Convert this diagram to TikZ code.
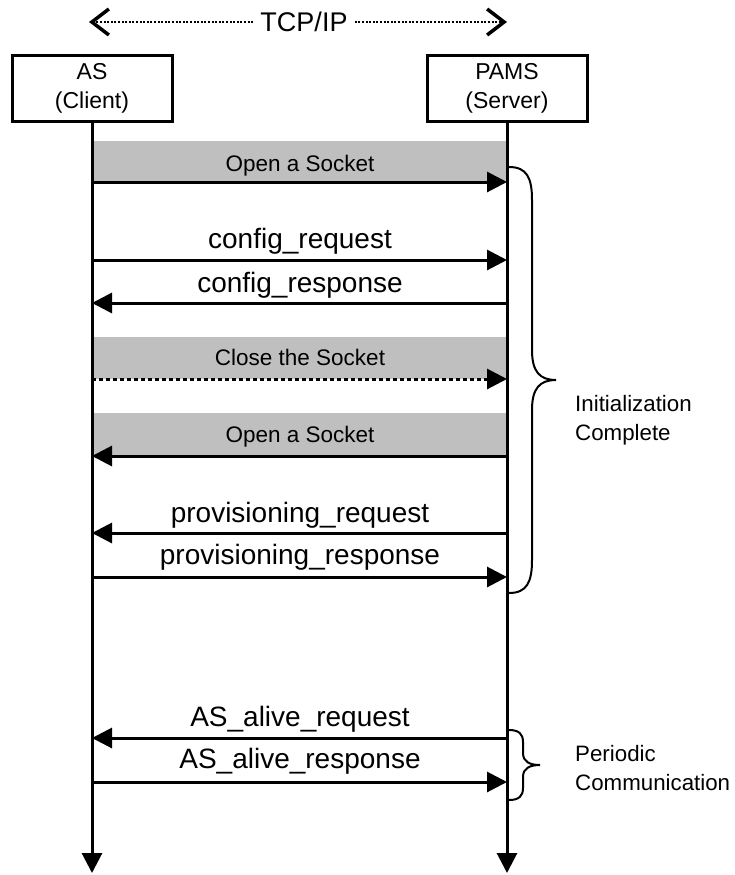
\documentclass[tikz,border=0pt]{standalone}
\usepackage{fontspec}
\setmainfont{Liberation Sans}
\usetikzlibrary{arrows.meta}

\tikzset{
  msg/.style={font=\fontsize{28}{30}\selectfont,anchor=base,inner sep=0pt},
  bandtext/.style={font=\fontsize{22.5}{26}\selectfont,anchor=base,inner sep=0pt},
  sidetext/.style={font=\fontsize{22.3}{28.5}\selectfont,anchor=base west,align=left,inner sep=0pt},
  party/.style={draw,line width=3pt,minimum width=160pt,minimum height=66pt,align=center,
    font=\fontsize{23}{28.4}\selectfont,inner sep=0pt},
  band/.style={fill=black!25},
  arr/.style={line width=3pt,-{Triangle[length=20pt,width=20pt]}},
  dots/.style={line width=2pt,dash pattern=on 2pt off 1.6pt,
    -{Straight Barb[length=17pt,width=26pt,line width=3.5pt]}},
  curly/.style={line width=2pt},
}

\begin{document}
\begin{tikzpicture}[x=1pt,y=-1pt]
  \useasboundingbox (0,0) rectangle (735,875);
  % grey bands
  \fill[band] (92,141) rectangle (507,182);
  \fill[band] (92,337) rectangle (507,379);
  \fill[band] (92,413) rectangle (507,456);
  % the two parties and their lifelines
  \node[party] (as) at (92,88.5) {AS\\(Client)};
  \node[party] (pams) at (507,88.5) {PAMS\\(Server)};
  \coordinate (asend) at (92,873);
  \coordinate (pamsend) at (507,873);
  \draw[arr] (as.south) -- (asend);
  \draw[arr] (pams.south) -- (pamsend);
  % TCP/IP
  \node[font=\fontsize{27}{30}\selectfont,fill=white,inner xsep=7pt,inner ysep=2pt] (tcp) at (304,22) {TCP/IP};
  \coordinate (tcpl) at (89,22);
  \coordinate (tcpr) at (507,22);
  \draw[dots] (tcp) -- (tcpl);
  \draw[dots] (tcp) -- (tcpr);
  % message points on the lifelines
  \foreach \n/\y in {1/182,2/260,3/303,4/379,5/456,6/533,7/577,8/738,9/782}{
    \coordinate (a\n) at (92,\y);
    \coordinate (p\n) at (507,\y);
  }
  \draw[arr] (a1) -- (p1);
  \draw[arr] (a2) -- (p2);
  \draw[arr] (p3) -- (a3);
  \draw[arr,dash pattern=on 4pt off 3pt] (a4) -- (p4);
  \draw[arr] (p5) -- (a5);
  \draw[arr] (p6) -- (a6);
  \draw[arr] (a7) -- (p7);
  \draw[arr] (p8) -- (a8);
  \draw[arr] (a9) -- (p9);
  % labels
  \node[bandtext] (open1) at (300,171) {Open a Socket};
  \node[msg] (creq) at (300,248) {config\_request};
  \node[msg] (cres) at (300,292) {config\_response};
  \node[bandtext] (close) at (300,365) {Close the Socket};
  \node[bandtext] (open2) at (300,442) {Open a Socket};
  \node[msg] (preq) at (300,522) {provisioning\_request};
  \node[msg] (pres) at (300,564) {provisioning\_response};
  \node[msg] (areq) at (300,726) {AS\_alive\_request};
  \node[msg] (ares) at (300,768) {AS\_alive\_response};
  % braces
  \draw[curly] (509,167) .. controls (527,167) and (532,178) .. (532,200) -- (532,350)
    .. controls (532,372) and (540,380) .. (556,380) .. controls (540,380) and (532,388) .. (532,410)
    -- (532,560) .. controls (532,582) and (527,593) .. (509,593);
  \draw[curly] (509,730) .. controls (519,730) and (523,734) .. (523,742) -- (523,753)
    .. controls (523,762) and (530,765) .. (540,765) .. controls (530,765) and (523,768) .. (523,777)
    -- (523,788) .. controls (523,796) and (519,800) .. (509,800);
  \node[sidetext] (init) at (575,440) {Initialization\\Complete};
  \node[sidetext] (period) at (575,790) {Periodic\\Communication};
\end{tikzpicture}
\end{document}
